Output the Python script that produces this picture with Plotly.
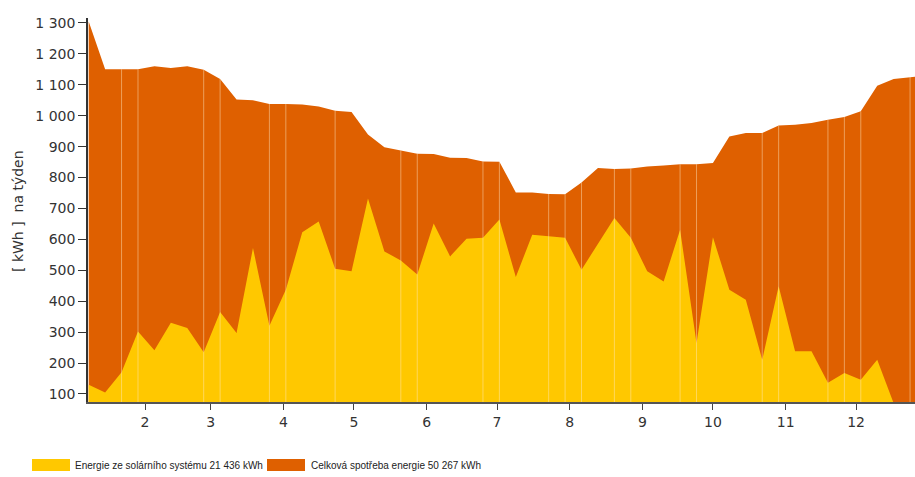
import plotly.graph_objects as go

# Weekly energy balance over one year (kWh per week)
week_index = list(range(52))
total_consumption = [1305, 1150, 1150, 1150, 1160, 1154, 1160, 1149, 1119, 1052,
                     1050, 1038, 1038, 1036, 1030, 1016, 1012, 939, 898, 888,
                     877, 876, 864, 863, 852, 851, 752, 752, 747, 746,
                     784, 831, 828, 829, 836, 839, 843, 843, 847, 933,
                     944, 944, 968, 971, 976, 987, 996, 1014, 1097, 1119,
                     1125, 1130]
solar_energy = [130, 105, 170, 302, 241, 330, 313, 235, 365, 297,
                572, 321, 437, 623, 658, 505, 497, 732, 561, 532,
                486, 651, 545, 602, 605, 664, 478, 615, 610, 605,
                502, 585, 669, 605, 497, 464, 631, 265, 607, 437,
                405, 211, 448, 238, 238, 136, 168, 146, 211, 70,
                60, 55]

# Weeks where monthly segments meet (thin light seams)
seam_weeks = [2, 3, 7, 8, 11, 12, 15, 19, 20, 24, 25, 28, 29, 30,
              32, 33, 36, 37, 41, 42, 45, 46, 47, 50]

# Month starts (day of year, 0-based) and their labels
month_start_days = [31, 59, 90, 120, 151, 181, 212, 243, 273, 304, 334]
month_labels = ["2", "3", "4", "5", "6", "7", "8", "9", "10", "11", "12"]

solar_name = "Energie ze solárního systému"
solar_total = "21 436"
total_name = "Celková spotřeba energie"
total_total = "50 267"
y_title = "[ kWh ]\u00a0\u00a0na týden"

ORANGE = "#DF6000"
YELLOW = "#FFC800"

W, H = 915, 477
ML, MR, MT, MB = 88, 0, 18, 75
Y_MIN, Y_MAX = 74, 1316
X_MIN, X_MAX = 6.7, 359.1

days = [7 + 7 * k for k in week_index]

fig = go.Figure()
fig.add_trace(go.Scatter(x=days, y=total_consumption, mode="lines",
                         line=dict(width=0, color=ORANGE), fill="tozeroy",
                         fillcolor=ORANGE, name=total_name, showlegend=False,
                         hoverinfo="skip"))
fig.add_trace(go.Scatter(x=days, y=solar_energy, mode="lines",
                         line=dict(width=0, color=YELLOW), fill="tozeroy",
                         fillcolor=YELLOW, name=solar_name, showlegend=False,
                         hoverinfo="skip"))

# seams between monthly segments
sx, sy = [], []
for k in seam_weeks:
    sx += [days[k], days[k], None]
    sy += [0, total_consumption[k], None]
fig.add_trace(go.Scatter(x=sx, y=sy, mode="lines",
                         line=dict(width=1, color="rgba(255,235,200,0.45)"),
                         showlegend=False, hoverinfo="skip"))

plot_w = W - ML - MR
plot_h = H - MT - MB


def px(xp):
    return (xp - ML) / plot_w


def py(yp):
    return (H - MB - yp) / plot_h


font_main = "DejaVu Sans"
font_legend = "Liberation Sans"

shapes = [
    dict(type="rect", xref="paper", yref="paper", x0=px(32), x1=px(70),
         y0=py(471), y1=py(459), fillcolor=YELLOW, line=dict(width=0)),
    dict(type="rect", xref="paper", yref="paper", x0=px(267), x1=px(305),
         y0=py(471), y1=py(459), fillcolor=ORANGE, line=dict(width=0)),
]
annotations = [
    dict(xref="paper", yref="paper", x=px(73), y=py(465), xanchor="left",
         yanchor="middle", showarrow=False,
         text=f"{solar_name} {solar_total} kWh",
         font=dict(family=font_legend, size=10, color="#222")),
    dict(xref="paper", yref="paper", x=px(309), y=py(465), xanchor="left",
         yanchor="middle", showarrow=False,
         text=f"{total_name} {total_total} kWh",
         font=dict(family=font_legend, size=10, color="#222")),
    dict(xref="paper", yref="paper", x=px(18), y=py(211), xanchor="center",
         yanchor="middle", showarrow=False, textangle=-90, text=y_title,
         font=dict(family=font_main, size=14, color="#333")),
]

fig.update_layout(
    width=W, height=H,
    margin=dict(l=ML, r=MR, t=MT, b=MB),
    paper_bgcolor="white", plot_bgcolor="white",
    separators=", ",
    shapes=shapes, annotations=annotations,
    showlegend=False,
)
fig.update_xaxes(range=[X_MIN, X_MAX], tickvals=month_start_days,
                 ticktext=month_labels, ticks="outside", ticklen=6,
                 tickcolor="#444", tickwidth=1, showgrid=False, zeroline=False,
                 showline=True, linecolor="#555", linewidth=2,
                 tickfont=dict(family=font_main, size=14, color="#333"))
fig.update_yaxes(range=[Y_MIN, Y_MAX], tickvals=list(range(100, 1301, 100)),
                 separatethousands=True, ticks="outside", ticklen=8,
                 tickcolor="#333", tickwidth=1, showgrid=False,
                 zeroline=False, showline=True, linecolor="#333", linewidth=1.5,
                 tickfont=dict(family=font_main, size=14, color="#333"))

fig.write_html("out.html")
